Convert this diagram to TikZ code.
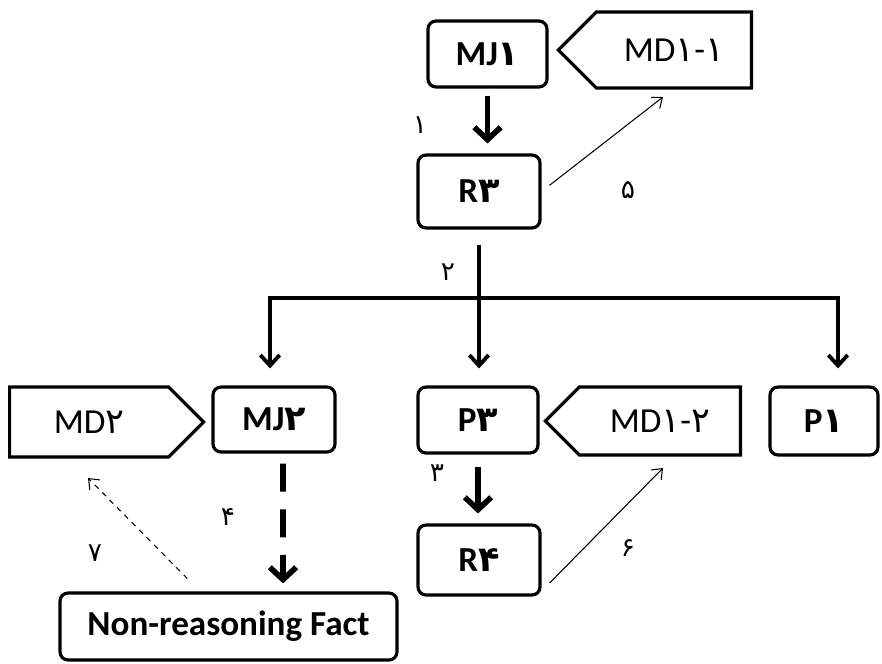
\documentclass[tikz,border=0pt]{standalone}
\usepackage{fontspec}
\setmainfont{Carlito}
\newfontfamily\fa{DejaVu Sans}
\usetikzlibrary{calc}
\usetikzlibrary{arrows.meta}
\usetikzlibrary{shapes.symbols}
\newcommand{\boxfont}{\fontsize{20}{24}\selectfont}
\tikzstyle{boxnode}=[draw, line width=1.8pt, rounded corners=0.16cm, inner sep=0pt, font=\boxfont\bfseries]
\tikzstyle{tagnode}=[draw, line width=1.8pt, shape=signal, signal from=nowhere, signal pointer angle=90, inner sep=0pt, font=\boxfont]
\tikzstyle{bigarrow}=[line width=3.2pt, -{Straight Barb[length=7pt,width=15pt]}]
\tikzstyle{treearrow}=[line width=2.2pt, -{Straight Barb[length=6pt,width=11pt]}]
\tikzstyle{thinarrow}=[line width=0.6pt, -{Straight Barb[length=5pt,width=8pt]}]
\tikzstyle{steplabel}=[inner sep=0pt, font=\fa\fontsize{15}{17}\selectfont]
\newcommand{\pd}[1]{{\fa #1}} % persian digits

\begin{document}
\begin{tikzpicture}[x=0.02cm, y=-0.02cm]
	\useasboundingbox (0,0) rectangle (882,663);
	% top part
	\node[boxnode, minimum width=2.38cm, minimum height=1.32cm] (mj1) at (487.5,54) {MJ\pd{۱}};
	\node[tagnode, signal to=west, minimum width=3.86cm, minimum height=1.52cm, anchor=east] (mdaa) at (753,50) {MD\pd{۱}-\pd{۱}};
	\node[boxnode, minimum width=2.44cm, minimum height=1.46cm] (r3) at (479,191.5) {R\pd{۳}};
	% second row
	\node[tagnode, signal to=east, minimum width=3.88cm, minimum height=1.40cm, anchor=west] (md2) at (8,422) {MD\pd{۲}};
	\node[boxnode, minimum width=2.44cm, minimum height=1.30cm] (mj2) at (274,419.5) {MJ\pd{۲}};
	\node[boxnode, minimum width=2.40cm, minimum height=1.32cm] (p3) at (478,420) {P\pd{۳}};
	\node[tagnode, signal to=west, minimum width=3.90cm, minimum height=1.36cm, anchor=east] (mdab) at (742,421) {MD\pd{۱}-\pd{۲}};
	\node[boxnode, minimum width=2.16cm, minimum height=1.36cm] (p1) at (824,421) {P\pd{۱}};
	\node[boxnode, minimum width=2.44cm, minimum height=1.40cm] (r4) at (479,560) {R\pd{۴}};
	\node[boxnode, minimum width=6.74cm, minimum height=1.34cm] (nrf) at (228.5,626.5) {Non-reasoning Fact};

	\coordinate (split) at (479,298);
	\coordinate (endaa) at (663,97);
	\coordinate (endab) at (663,468);
	\coordinate (end2) at (88,478);

	\draw[bigarrow, shorten <=0.14cm, shorten >=0.2cm] (mj1.south) -- (mj1.south |- r3.north);
	\draw[thinarrow, shorten <=0.2cm] (r3.east) -- (endaa);
	\draw[line width=2.2pt, shorten <=0.3cm] (r3.south) -- (split);
	\draw[treearrow, shorten >=0.34cm] (split) -- (split |- p3.north);
	\draw[treearrow, shorten >=0.34cm] (split) -| ($(mj2.north)+(-4,0)$);
	\draw[treearrow, shorten >=0.34cm] (split) -| ($(p1.north)+(14,0)$);
	\draw[bigarrow, shorten <=0.24cm, shorten >=0.2cm] (p3.south) -- (p3.south |- r4.north);
	\draw[thinarrow] ($(r4.east)+(8,23)$) -- (endab);
	\draw[bigarrow, dash pattern=on 16pt off 10pt, shorten <=0.2cm, shorten >=0.16cm] ($(mj2.south)+(9,0)$) -- ($(nrf.north)+(54.5,0)$);
	\draw[thinarrow, dashed, shorten <=0.36cm] ($(nrf.north)+(-28.5,0)$) -- (end2);

	% step numbers
	\node[steplabel] (n1) at (420,125) {۱};
	\node[steplabel] (n2) at (448,272) {۲};
	\node[steplabel] (n3) at (437,473) {۳};
	\node[steplabel] (n4) at (228,517) {۴};
	\node[steplabel] (n5) at (628,190) {۵};
	\node[steplabel] (n6) at (628,548) {۶};
	\node[steplabel] (n7) at (95,553) {۷};
\end{tikzpicture}
\end{document}
